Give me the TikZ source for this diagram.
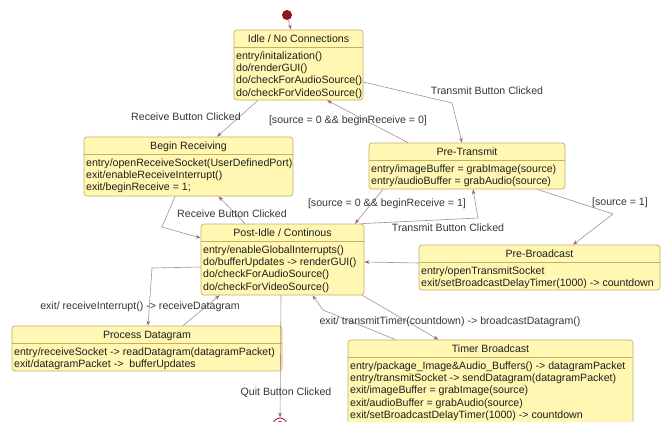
\documentclass[tikz,border=0pt]{standalone}
\usepackage{fontspec}
\setmainfont{Liberation Sans}
\usetikzlibrary{arrows.meta}
\definecolor{stfill}{RGB}{255,247,178}
\definecolor{stborder}{RGB}{196,176,104}
\definecolor{lncol}{RGB}{165,145,155}
\definecolor{arcol}{RGB}{160,95,105}
\definecolor{txt}{RGB}{30,30,30}
\definecolor{lblcol}{RGB}{55,55,55}
\definecolor{dotcol}{RGB}{150,15,25}
\newcommand{\fs}{\fontsize{10.6}{12.4}\selectfont}
\tikzset{
  state/.style={draw=stborder, fill=stfill, rounded corners=3pt, inner sep=0pt, line width=0.7pt},
  ttl/.style={anchor=base, inner sep=0pt, font=\fs, text=txt},
  body/.style={anchor=north west, align=left, inner sep=0pt, font=\fs, text=txt},
  sepline/.style={draw=stborder, line width=0.7pt},
  conn/.style={draw=lncol, line width=0.6pt, -{Stealth[length=5pt,width=3.5pt,color=arcol]}},
  lbl/.style={font=\fs, text=lblcol, inner sep=0pt},
}
\begin{document}
\begin{tikzpicture}[x=1pt,y=-1pt]
\useasboundingbox (0,0) rectangle (670,421);
\fill[white] (0,0) rectangle (670,421);
\begin{scope}
\clip (0,0) rectangle (670,421);
% states
\node[state, minimum width=129pt, minimum height=70pt] (idle) at (298.5,65) {};
\node[ttl] (idleT) at (298.5,42.3) {Idle / No Connections};
\coordinate (idleS) at (0,47);
\draw[sepline] (idle.west |- idleS) -- (idle.east |- idleS);
\node[body] (idleB) at (236,51.3) {entry/initalization()\\do/renderGUI()\\do/checkForAudioSource()\\do/checkForVideoSource()};

\node[state, minimum width=209pt, minimum height=59pt] (begin) at (188.5,166.5) {};
\node[ttl] (beginT) at (188.5,149.3) {Begin Receiving};
\coordinate (beginS) at (0,154);
\draw[sepline] (begin.west |- beginS) -- (begin.east |- beginS);
\node[body] (beginB) at (86,158.3) {entry/openReceiveSocket(UserDefinedPort)\\exit/enableReceiveInterrupt()\\exit/beginReceive = 1;};

\node[state, minimum width=196pt, minimum height=46pt] (pretx) at (467,166) {};
\node[ttl] (pretxT) at (467,155.3) {Pre-Transmit};
\coordinate (pretxS) at (0,160);
\draw[sepline] (pretx.west |- pretxS) -- (pretx.east |- pretxS);
\node[body] (pretxB) at (371,164.3) {entry/imageBuffer = grabImage(source)\\entry/audioBuffer = grabAudio(source)};

\node[state, minimum width=163pt, minimum height=71pt] (post) at (282.5,259.5) {};
\node[ttl] (postT) at (282.5,236.3) {Post-Idle / Continous};
\coordinate (postS) at (0,241);
\draw[sepline] (post.west |- postS) -- (post.east |- postS);
\node[body] (postB) at (203,245.3) {entry/enableGlobalInterrupts()\\do/bufferUpdates -> renderGUI()\\do/checkForAudioSource()\\do/checkForVideoSource()};

\node[state, minimum width=241pt, minimum height=45pt] (prebc) at (539.5,267.5) {};
\node[ttl] (prebcT) at (539.5,257.3) {Pre-Broadcast};
\coordinate (prebcS) at (0,262);
\draw[sepline] (prebc.west |- prebcS) -- (prebc.east |- prebcS);
\node[body] (prebcB) at (421,266.3) {entry/openTransmitSocket\\exit/setBroadcastDelayTimer(1000) -> countdown};

\node[state, minimum width=270pt, minimum height=45pt] (proc) at (147,348.5) {};
\node[ttl] (procT) at (147,338.3) {Process Datagram};
\coordinate (procS) at (0,343);
\draw[sepline] (proc.west |- procS) -- (proc.east |- procS);
\node[body] (procB) at (14,347.3) {entry/receiveSocket -> readDatagram(datagramPacket)\\exit/datagramPacket ->\ \ bufferUpdates};

\node[state, minimum width=285pt, minimum height=90pt] (timer) at (490.5,385) {};
\node[ttl] (timerT) at (490.5,352.3) {Timer Broadcast};
\coordinate (timerS) at (0,357);
\draw[sepline] (timer.west |- timerS) -- (timer.east |- timerS);
\node[body] (timerB) at (350,361.3) {entry/package\_Image\&Audio\_Buffers() -> datagramPacket\\entry/transmitSocket -> sendDatagram(datagramPacket)\\exit/imageBuffer = grabImage(source)\\exit/audioBuffer = grabAudio(source)\\exit/setBroadcastDelayTimer(1000) -> countdown};

% pseudo states
\node[circle, fill=dotcol, minimum size=10pt, inner sep=0pt] (init) at (287,15) {};
\node[circle, draw=dotcol, fill=white, line width=0.8pt, minimum size=14pt, inner sep=0pt] (final) at (280,425) {};
\node[circle, fill=dotcol, minimum size=8pt, inner sep=0pt] (finalIn) at (280,425) {};

% bend points
\coordinate (b1) at (452,103);
\coordinate (b2) at (162,227);
\coordinate (b3) at (478,218);
\coordinate (b4) at (613,214);
\coordinate (b5) at (152,268);
\coordinate (b6) at (323,310);

% connectors
\draw[conn] (init) -- ([xshift=-7.5pt]idle.north);
\draw[conn] ([xshift=-40.5pt]idle.south) -- ([xshift=28.5pt]begin.north);
\draw[conn] ([yshift=-17pt]idle.east) -- (b1) -- ([xshift=-5pt]pretx.north);
\draw[conn] ([xshift=-59pt]pretx.north) -- ([xshift=28.5pt]idle.south);
\draw[conn] ([xshift=-13.5pt]begin.south) -- (b2) -- ([yshift=21.5pt]post.west);
\draw[conn] ([xshift=-37.5pt]post.north) -- ([xshift=30pt]begin.south);
\draw[conn] ([xshift=-84pt]pretx.south) -- ([xshift=72.5pt]post.north);
\draw[conn] ([xshift=-3pt]post.north east) -- (b3) -- ([xshift=6pt]pretx.south);
\draw[conn] ([xshift=-28pt]pretx.south east) -- (b4) -- ([xshift=33.5pt]prebc.north);
\draw[conn] ([yshift=4.5pt]prebc.west) -- ([yshift=-2.5pt]post.east);
\draw[conn] ([yshift=-7.5pt]post.west) -- (b5) -- ([xshift=1pt]proc.north);
\draw[conn] ([xshift=36pt]proc.north) -- ([xshift=-63pt]post.south);
\draw[conn] ([xshift=-2pt]post.south east) -- ([xshift=-52pt]timer.north);
\draw[conn] ([xshift=-95pt]timer.north) -- (b6) -- ([xshift=30pt]post.south);
\draw[conn] ([xshift=-1.5pt]post.south) -- (final);

% labels
\node[lbl] (l1) at (186,117) {Receive Button Clicked};
\node[lbl] (l2) at (487,91) {Transmit Button Clicked};
\node[lbl] (l3) at (348,121) {[source = 0 \&\& beginReceive = 0]};
\node[lbl] (l4) at (232,214) {Receive Button Clicked};
\node[lbl] (l5) at (387,204) {[source = 0 \&\& beginReceive = 1]};
\node[lbl] (l6) at (448,228) {Transmit Button Clicked};
\node[lbl] (l7) at (620,203) {[source = 1]};
\node[lbl] (l8) at (140,307) {exit/ receiveInterrupt() -> receiveDatagram};
\node[lbl] (l9) at (450,322) {exit/ transmitTimer(countdown) -> broadcastDatagram()};
\node[lbl] (l10) at (286,393) {Quit Button Clicked};
\end{scope}
\end{tikzpicture}
\end{document}
